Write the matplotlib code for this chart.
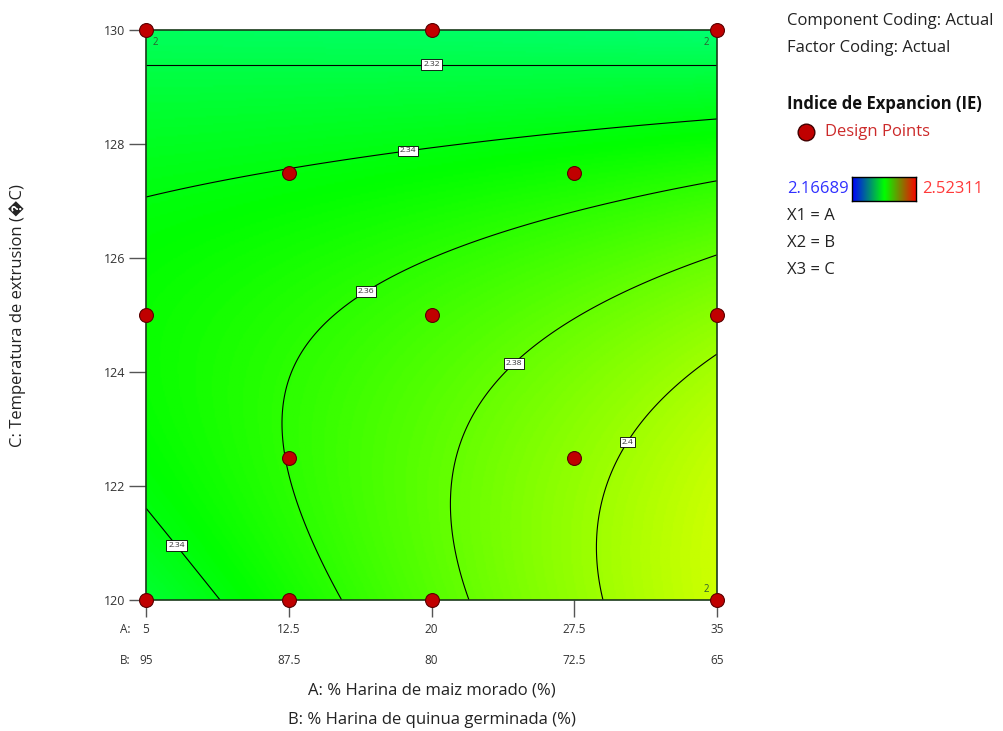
import numpy as np
import matplotlib
matplotlib.use("Agg")
import matplotlib.pyplot as plt
from matplotlib.colors import LinearSegmentedColormap, Normalize

plt.rcParams['font.family'] = ['Open Sans', 'DejaVu Sans']

# axis ticks
a_ticks = [5, 12.5, 20, 27.5, 35]
b_ticks = ["95", "87.5", "80", "72.5", "65"]
c_ticks = [120, 122, 124, 126, 128, 130]

# design points (A, C) and replicate marks
design_a = [5, 20, 35, 12.5, 27.5, 5, 20, 35, 12.5, 27.5, 5, 12.5, 20, 35]
design_c = [130, 130, 130, 127.5, 127.5, 125, 125, 125, 122.5, 122.5, 120, 120, 120, 120]
rep_a = [5, 35, 35]
rep_c = [130, 130, 120]

# response range and contour levels
ie_min, ie_max = 2.16689, 2.52311
levels = [2.32, 2.34, 2.36, 2.38, 2.4]

# fitted response: IE = ref + t*p(A) + t^2*q(A), t = c_ref - C, s = A - 5
c_ref = 129.39
ie_ref = 2.32
p_coef = [0.01119, 1.65e-4, 6.8e-6]
q_coef = [-0.001108, 1.968e-5, -8.47e-7]

# where the contour labels sit (A, C)
label_pos = [(20, 129.39), (18.7, 128.0), (6.4, 120.9), (16.2, 125.6), (23.8, 124.35), (29.9, 122.85)]


def response(A, C):
	s = A - 5
	t = c_ref - C
	p = p_coef[0] + p_coef[1]*s + p_coef[2]*s**2
	q = q_coef[0] + q_coef[1]*s + q_coef[2]*s**2
	return ie_ref + t*p + t**2*q


fig = plt.figure(figsize=(10.04, 7.31), dpi=100)
ax = fig.add_axes([146/1004, 1-600/731, 571/1004, 570/731])

plot_cmap = LinearSegmentedColormap.from_list("de", [(0, "#0000ff"), (0.25, "#00ffff"), (0.5, "#00ff00"), (0.75, "#ffff00"), (1, "#ff0000")])
bar_cmap = LinearSegmentedColormap.from_list("bar", ["#0000ff", "#00ff00", "#ff0000"])
norm = Normalize(ie_min, ie_max)

aa = np.linspace(5, 35, 400)
cc = np.linspace(120, 130, 300)
AA, CC = np.meshgrid(aa, cc)
ZZ = response(AA, CC)

ax.imshow(ZZ, extent=[5, 35, 120, 130], origin="lower", aspect="auto", cmap=plot_cmap, norm=norm)
cs = ax.contour(AA, CC, ZZ, levels=levels, colors="black", linewidths=0.8)
texts = ax.clabel(cs, manual=label_pos, inline=False, fontsize=6, fmt=lambda v: f"{v:g}")
for txt in texts:
	txt.set_rotation(0)
	txt.set_bbox(dict(facecolor="white", edgecolor="black", linewidth=0.6, pad=1.3))
	txt.set_color("#333333")

ax.plot(design_a, design_c, "o", ms=10, color="#c00000", mec="#5a0000", mew=0.8, clip_on=False, zorder=5)
for a, c in zip(rep_a, rep_c):
	dx = 5 if a == 5 else -10
	ax.annotate("2", (a, c), xytext=(dx, -11 if c == 130 else 6), textcoords="offset points", fontsize=7, color="#2e5e2e")

ax.set_xlim(5, 35)
ax.set_ylim(120, 130)
for sp in ax.spines.values():
	sp.set_color("#1a3a1a")
	sp.set_linewidth(1.2)

ax.set_yticks(c_ticks)
ax.set_yticklabels([str(c) for c in c_ticks])
ax.tick_params(axis="y", length=12, width=1, color="#555555", labelsize=9, labelcolor="#333333", pad=3)
ax.set_xticks(a_ticks)
ax.set_xticklabels([])
ax.tick_params(axis="x", length=12, width=1, color="#555555")

tr = ax.get_xaxis_transform()
for a, b in zip(a_ticks, b_ticks):
	ax.text(a, -0.051, f"{a:g}", transform=tr, ha="center", va="center", fontsize=8.5, color="#333333")
	ax.text(a, -0.107, b, transform=tr, ha="center", va="center", fontsize=8.5, color="#333333")
ax.text(-0.037, -0.051, "A:", transform=ax.transAxes, ha="center", va="center", fontsize=8.5, color="#333333")
ax.text(-0.037, -0.107, "B:", transform=ax.transAxes, ha="center", va="center", fontsize=8.5, color="#333333")

ax.text(0.5, -0.158, "A: % Harina de maiz morado (%)", transform=ax.transAxes, ha="center", va="center", fontsize=12, color="#222222")
ax.text(0.5, -0.211, "B: % Harina de quinua germinada (%)", transform=ax.transAxes, ha="center", va="center", fontsize=12, color="#222222")
fig.text(18/1004, 1-316/731, "C: Temperatura de extrusion (\ufffdC)", rotation=90, ha="center", va="center", fontsize=12, color="#222222")

# legend block on the right
lx = 787/1004
fig.text(lx, 1-21/731, "Component Coding: Actual", ha="left", va="center", fontsize=12, color="#222222")
fig.text(lx, 1-48/731, "Factor Coding: Actual", ha="left", va="center", fontsize=12, color="#222222")
fig.text(lx, 1-104/731, "Indice de Expancion (IE)", ha="left", va="center", fontsize=12, fontweight="bold", color="#111111")
fig.lines.append(plt.Line2D([806/1004], [1-132/731], marker="o", ms=12, color="#c00000", mec="#400000", mew=1, transform=fig.transFigure))
fig.text(825/1004, 1-132/731, "Design Points", ha="left", va="center", fontsize=12, color="#cc2a2a")
fig.text(lx, 1-189/731, f"{ie_min:.5f}", ha="left", va="center", fontsize=12, color="#3030ff")
fig.text(922/1004, 1-189/731, f"{ie_max:.5f}", ha="left", va="center", fontsize=12, color="#ff3a3a")
cax = fig.add_axes([852/1004, 1-201/731, 64/1004, 24/731])
cax.imshow(np.linspace(0, 1, 256)[None, :], aspect="auto", cmap=bar_cmap)
cax.set_xticks([])
cax.set_yticks([])
for sp in cax.spines.values():
	sp.set_linewidth(1)
for i, name in enumerate(["X1 = A", "X2 = B", "X3 = C"]):
	fig.text(lx, 1-(216+27*i)/731, name, ha="left", va="center", fontsize=12, color="#222222")

fig.savefig("out.png", dpi=100)
